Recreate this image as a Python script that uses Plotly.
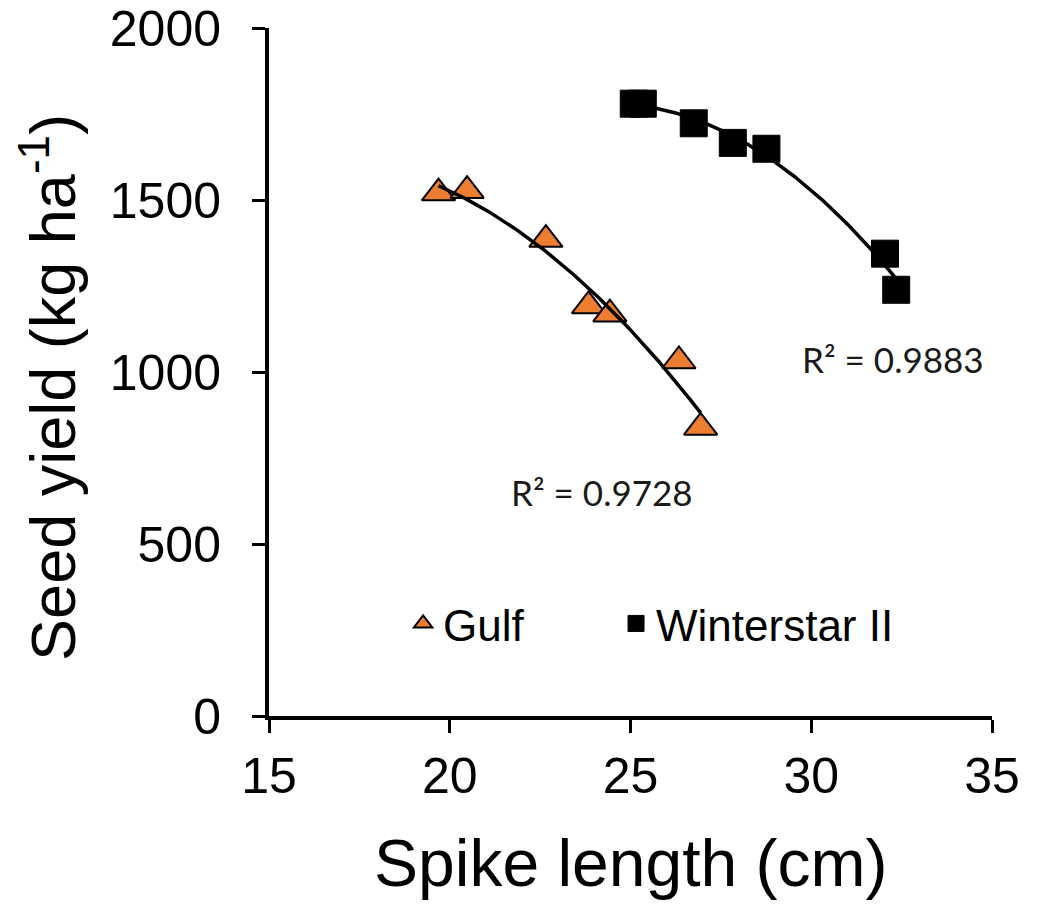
import numpy as np
import plotly.graph_objects as go

# ---- data ----
gulf_x = [19.69, 20.48, 22.66, 23.84, 24.43, 26.34, 26.94]
gulf_y = [1520, 1527, 1385, 1192, 1168, 1032, 839]
winter_x = [25.09, 25.34, 26.75, 27.83, 28.76, 32.04, 32.35]
winter_y = [1780, 1780, 1723, 1666, 1649, 1344, 1239]
series_names = ["Gulf", "Winterstar II"]
r2_labels = ["R² = 0.9728", "R² = 0.9883"]
r2_pos_x = [24.22, 32.26]
r2_pos_y = [650, 1038]
x_ticks = [15, 20, 25, 30, 35]
y_ticks = [0, 500, 1000, 1500, 2000]

ORANGE = "#ED7D31"
AXIS_FONT = "Liberation Sans, Arial, sans-serif"


def quad_fit(x, y):
    c = np.polyfit(x, y, 2)
    xs = np.linspace(min(x), max(x), 120)
    return xs, np.polyval(c, xs)


fig = go.Figure()

fig.add_trace(go.Scatter(
    x=gulf_x, y=gulf_y, mode="markers", name=series_names[0], legend="legend",
    marker=dict(symbol="triangle-up", size=29, color=ORANGE,
                line=dict(color="black", width=2)),
))
fig.add_trace(go.Scatter(
    x=winter_x, y=winter_y, mode="markers", name=series_names[1], legend="legend2",
    marker=dict(symbol="square", size=27, color="black",
                line=dict(color="black", width=1)),
))

gx, gy = quad_fit(gulf_x, gulf_y)
wx, wy = quad_fit(winter_x, winter_y)
fig.add_trace(go.Scatter(x=gx, y=gy, mode="lines", showlegend=False,
                         line=dict(color="black", width=3.5), hoverinfo="skip"))
fig.add_trace(go.Scatter(x=wx, y=wy, mode="lines", showlegend=False,
                         line=dict(color="black", width=3.5), hoverinfo="skip"))

for lbl, ax_, ay_ in zip(r2_labels, r2_pos_x, r2_pos_y):
    fig.add_annotation(x=ax_, y=ay_, xref="x", yref="y", text=lbl,
                       showarrow=False, xanchor="center", yanchor="middle",
                       font=dict(family="Lato, Open Sans, sans-serif", size=35, color="#1a1a1a"))

# axis titles
fig.add_annotation(x=0.5, y=-0.213, xref="paper", yref="paper",
                   text="Spike length (cm)", showarrow=False,
                   xanchor="center", yanchor="middle",
                   font=dict(family=AXIS_FONT, size=66, color="black"))
fig.add_annotation(x=-0.306, y=0.478, xref="paper", yref="paper",
                   text="Seed yield (kg ha<sup>-1</sup>)", showarrow=False,
                   textangle=-90, xanchor="center", yanchor="middle",
                   font=dict(family=AXIS_FONT, size=63, color="black"))

axis_common = dict(
    showgrid=False, zeroline=False, showline=True, linecolor="black",
    linewidth=4, ticks="outside", ticklen=13, tickwidth=3, tickcolor="black",
    tickfont=dict(family=AXIS_FONT, size=50, color="black"), automargin=False,
    ticklabeloverflow="allow",
)

fig.update_xaxes(range=[15, 35], tickvals=x_ticks, ticktext=[str(v) for v in x_ticks],
                 ticklabelstandoff=0, **axis_common)
fig.update_yaxes(range=[0, 2000], tickvals=y_ticks, ticktext=[str(v) for v in y_ticks],
                 ticklabelstandoff=21, **axis_common)

legend_common = dict(orientation="h", y=0.134, xanchor="left", yanchor="middle",
                     font=dict(family=AXIS_FONT, size=44, color="black"),
                     bgcolor="rgba(0,0,0,0)", itemsizing="trace")

# page body has an 8px default margin, so the figure is 8px smaller than the window
fig.update_layout(
    width=1032, height=896,
    margin=dict(l=261, r=48, t=20, b=188, autoexpand=False),
    paper_bgcolor="white", plot_bgcolor="white",
    showlegend=True,
    legend=dict(x=0.1855, **legend_common),
    legend2=dict(x=0.480, **legend_common),
)

fig.write_html("out.html")
